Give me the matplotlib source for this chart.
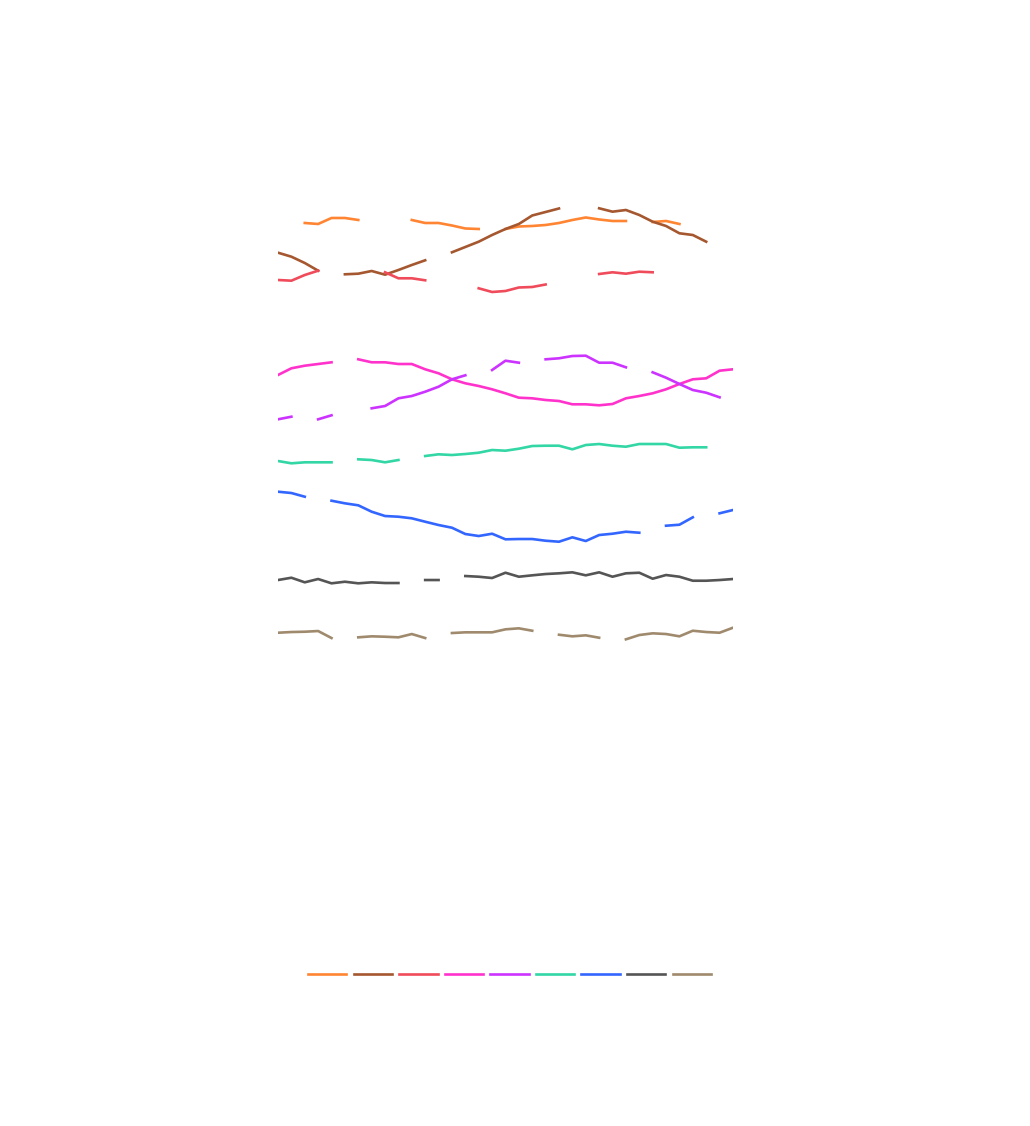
import numpy as np
import matplotlib
matplotlib.use("Agg")
import matplotlib.pyplot as plt

N = np.nan

# 35 samples per series, gaps are missing values
steps = np.arange(35)

orange = [N, N, 477, 476, 482, 482, 480, N, N, N, 480, 477, 477, 474.5, 471.5, 471, N,
          471, 473.5, 474, 475, 477, 480, 482.5, 480.5, 479, 479, N, 478, 479, 476, N, N, N, N]
brown = [447.3, 443.3, 437, 429.3, N, 425.7, 426.3, 429, 425.3, 430, 435, 439.7, N,
         447.7, 453, 458.3, 465, 471, 476, 484.5, 488, 491.5, N, N, 491.7, 488.3, 490,
         485, 478.3, 474, 466.7, 465, 458.3, N, N]
red = [420, 419.3, 425, 429.3, N, N, N, N, 427.7, 421.7, 421.7, 419.7, N, N, N,
       411.7, 408, 409, 412.5, 413, 415.5, N, N, N, 426, 427.7, 426.3, 428.3, 427.7,
       N, N, N, N, N, N]
pink = [325, 331.7, 334.3, 336, 337.7, N, 340.7, 337.7, 337.7, 336, 336, 330.7, 326.7,
        320.7, 316.7, 314, 310.7, 306.7, 302.3, 301.7, 300, 299, 295.7, 295.7, 294.7,
        296, 301.7, 304, 306.7, 310.7, 316, 320.7, 321.7, 329.3, 330.7]
purple = [280.7, 283.3, N, 280.7, 284.7, N, N, 291.7, 294, 301.7, 304, 308.3, 313.3,
          320.7, 324.7, N, 330, 339.3, 337.3, N, 340.7, 341.7, 344, 344.3, 337.3, 337.3,
          332.7, N, 327.7, 322.3, 316, 310, 307.3, 302.7, N]
teal = [239, 236.7, 237.7, 237.7, 237.7, N, 240.7, 240, 237.7, 240, N, 244, 245.7, 245,
        246, 247.3, 250, 249.3, 251.3, 254, 254.3, 254.3, 250.7, 255, 256, 254.3, 253.3,
        256, 256, 256, 252.3, 252.7, 252.7, N, N]
blue = [208.3, 207, 203.3, N, 199.3, 196.7, 194.7, 188.3, 184, 183.3, 181.7, 178.3, 175,
        172.3, 166, 164, 166.3, 160.7, 161, 161, 159.3, 158.3, 162.7, 159, 165, 166.3,
        168.3, 167.3, N, 174.3, 175.3, 182.7, N, 186.7, 190]
gray = [120, 122.3, 117.7, 121, 116.7, 118.3, 116.7, 117.7, 117, 117, N, 120, 120, N,
        124, 123.3, 122, 127.3, 123.3, 124.7, 126, 126.7, 127.7, 124.7, 127.7, 123.3,
        126.7, 127.3, 121.3, 125, 123.3, 119.3, 119.3, 120, 121]
tan = [67.3, 68, 68.3, 69, 62, N, 62.7, 63.7, 63.3, 62.7, 66, 62, N, 67, 67.7, 67.7,
       67.7, 70.7, 71.7, 69.3, N, 65.3, 63.7, 64.7, 62.3, N, 60.7, 65, 66.7, 66, 63.7,
       69.3, 68, 67.3, 72.3]

series = [orange, brown, red, pink, purple, teal, blue, gray, tan]
colors = ['#ff8533', '#a5572f', '#f04b5a', '#ff33cc', '#cc33ff',
          '#33d6a5', '#3366ff', '#555555', '#a08a6e']

fig = plt.figure(figsize=(10.3, 11.26), dpi=100)
ax = fig.add_axes([0.2699, 0.3783, 0.4417, 0.4885])

handles = []
for vals, c in zip(series, colors):
    line, = ax.plot(steps, vals, color=c, lw=1.9)
    handles.append(line)

ax.set_xlim(0, 34)
ax.set_ylim(0, 550)
ax.axis('off')

fig.legend(handles, [''] * len(handles), loc='center', bbox_to_anchor=(0.4947, 0.1341),
           ncol=9, frameon=False, handlelength=2.76, handletextpad=0,
           columnspacing=0.52)

fig.savefig('out.png', dpi=100)
